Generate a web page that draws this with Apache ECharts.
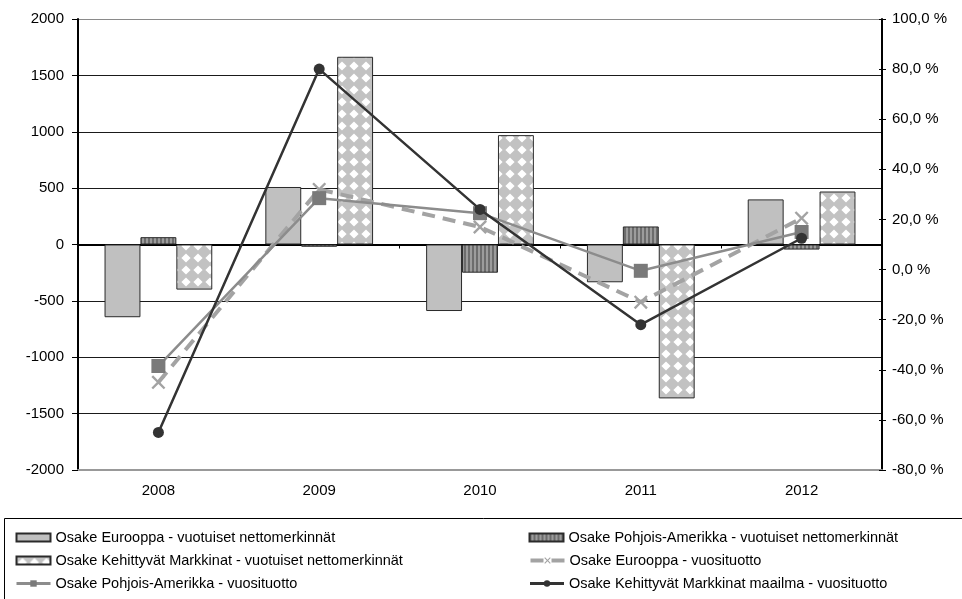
<!DOCTYPE html>
<html>
<head>
<meta charset="utf-8">
<script src="https://cdn.jsdelivr.net/npm/echarts@6/dist/echarts.min.js"></script>
<style>
  html, body { margin: 0; padding: 0; background: #fff; }
  #chart { width: 962px; height: 599px; }
</style>
</head>
<body>
<div id="chart"></div>
<script>
// Years on the category axis
const years = ['2008', '2009', '2010', '2011', '2012'];

// Annual net subscriptions (left axis)
const europeFlows = [-645, 510, -590, -335, 400];
const northAmericaFlows = [65, -20, -250, 160, -45];
const emergingFlows = [-400, 1665, 970, -1365, 470];

// Annual returns in percent (right axis)
const europeReturn = [-45, 32, 17, -13, 20.5];
const northAmericaReturn = [-38.5, 28.5, 22.5, -0.5, 15];
const emergingReturn = [-65, 80, 24, -22, 12.5];

// Axis tick settings
const leftTicks = { min: -2000, max: 2000, interval: 500 };
const rightTicks = { min: -80, max: 100, interval: 20 };

const seriesNames = [
  'Osake Eurooppa - vuotuiset nettomerkinnät',
  'Osake Pohjois-Amerikka - vuotuiset nettomerkinnät',
  'Osake Kehittyvät Markkinat - vuotuiset nettomerkinnät',
  'Osake Eurooppa - vuosituotto',
  'Osake Pohjois-Amerikka - vuosituotto',
  'Osake Kehittyvät Markkinat maailma - vuosituotto'
];

// Fill patterns for the bars
function stripePattern() {
  const c = document.createElement('canvas');
  c.width = 4; c.height = 4;
  const g = c.getContext('2d');
  g.fillStyle = '#6c6c6c'; g.fillRect(0, 0, 4, 4);
  g.fillStyle = '#9c9c9c'; g.fillRect(2, 0, 2, 4);
  return c;
}
function diamondPattern() {
  const s = 12;
  const c = document.createElement('canvas');
  c.width = s; c.height = s;
  const g = c.getContext('2d');
  g.fillStyle = '#c2c2c2'; g.fillRect(0, 0, s, s);
  g.fillStyle = '#ffffff';
  const d = 4.6;
  g.beginPath();
  g.moveTo(s / 2, s / 2 - d); g.lineTo(s / 2 + d, s / 2);
  g.lineTo(s / 2, s / 2 + d); g.lineTo(s / 2 - d, s / 2);
  g.closePath(); g.fill();
  return c;
}

const font = '"Liberation Sans", Arial, sans-serif';
const pct = v => v.toFixed(1).replace('.', ',') + ' %';
const crossSymbol = 'path://M0,1.2 L1.2,0 L5,3.8 L8.8,0 L10,1.2 L6.2,5 L10,8.8 L8.8,10 L5,6.2 L1.2,10 L0,8.8 L3.8,5Z';

const chart = echarts.init(document.getElementById('chart'), null, { renderer: 'canvas' });

const splitColors = ['#999'].concat(Array(7).fill('#1a1a1a')).concat(['#8a8a8a']);

chart.setOption({
  animation: false,
  backgroundColor: '#fff',
  textStyle: { fontFamily: font },
  grid: { left: 78, right: 80, top: 19, bottom: 129 },
  legend: {
    left: 15,
    top: 526,
    width: 1040,
    itemWidth: 34,
    itemHeight: 8,
    itemGap: 0,
    padding: 0,
    textStyle: { fontFamily: font, fontSize: 14.5, color: '#000', width: 473, lineHeight: 23 },
    data: [
      { name: seriesNames[0], icon: 'rect' },
      { name: seriesNames[1], icon: 'rect' },
      { name: seriesNames[2], icon: 'rect' },
      { name: seriesNames[3], lineStyle: { width: 4 } },
      { name: seriesNames[4], lineStyle: { width: 3 } },
      { name: seriesNames[5], lineStyle: { width: 3 } }
    ]
  },
  graphic: [{
    type: 'rect',
    shape: { x: 4.5, y: 518.5, width: 970, height: 100 },
    style: { fill: 'none', stroke: '#000', lineWidth: 1 },
    z: 0, silent: true
  }],
  xAxis: [{
    type: 'category',
    data: years,
    position: 'bottom',
    axisLine: { onZero: false, lineStyle: { color: '#999', width: 2 } },
    axisTick: { show: false },
    axisLabel: { fontSize: 15, color: '#000', margin: 13, fontFamily: font },
    splitLine: { show: false }
  }, {
    type: 'category',
    data: years,
    position: 'bottom',
    axisLine: { onZero: true, onZeroAxisIndex: 0, lineStyle: { color: '#000', width: 2 } },
    axisTick: { show: true, length: 4, lineStyle: { color: '#000' } },
    axisLabel: { show: false },
    splitLine: { show: false }
  }],
  yAxis: [{
    type: 'value',
    position: 'left',
    min: leftTicks.min, max: leftTicks.max, interval: leftTicks.interval,
    axisLine: { show: true, lineStyle: { color: '#000', width: 2 } },
    axisTick: { show: true, length: 6, lineStyle: { color: '#000' } },
    axisLabel: { fontSize: 15, color: '#000', margin: 14, fontFamily: font, formatter: v => String(v) },
    splitLine: { show: true, lineStyle: { color: splitColors, width: 1 } }
  }, {
    type: 'value',
    position: 'right',
    min: rightTicks.min, max: rightTicks.max, interval: rightTicks.interval,
    axisLine: { show: true, lineStyle: { color: '#000', width: 2 } },
    axisTick: { show: true, length: 4, lineStyle: { color: '#000' } },
    axisLabel: { fontSize: 15, color: '#000', margin: 10, fontFamily: font, formatter: pct },
    splitLine: { show: false }
  }, {
    type: 'value',
    position: 'right',
    min: rightTicks.min, max: rightTicks.max, interval: rightTicks.interval,
    axisLine: { show: false },
    axisTick: { show: true, inside: true, length: 3, lineStyle: { color: '#000' } },
    axisLabel: { show: false },
    splitLine: { show: false }
  }],
  series: [{
    name: seriesNames[0], type: 'bar', data: europeFlows,
    barGap: '0%', barCategoryGap: '33%',
    itemStyle: { color: '#c0c0c0', borderColor: '#2a2a2a', borderWidth: 1 },
    z: 2
  }, {
    name: seriesNames[1], type: 'bar', data: northAmericaFlows,
    barGap: '0%', barCategoryGap: '33%',
    itemStyle: { color: { image: stripePattern(), repeat: 'repeat' }, borderColor: '#2a2a2a', borderWidth: 1 },
    z: 2
  }, {
    name: seriesNames[2], type: 'bar', data: emergingFlows,
    barGap: '0%', barCategoryGap: '33%',
    itemStyle: { color: { image: diamondPattern(), repeat: 'repeat' }, borderColor: '#2a2a2a', borderWidth: 1 },
    z: 2
  }, {
    name: seriesNames[3], type: 'line', yAxisIndex: 1, data: europeReturn,
    symbol: crossSymbol, symbolSize: 14, showSymbol: true,
    lineStyle: { color: '#a3a3a3', width: 4, type: [13, 8] },
    itemStyle: { color: '#a3a3a3' },
    z: 4
  }, {
    name: seriesNames[4], type: 'line', yAxisIndex: 1, data: northAmericaReturn,
    symbol: 'rect', symbolSize: 14, showSymbol: true,
    lineStyle: { color: '#8c8c8c', width: 2.5 },
    itemStyle: { color: '#7a7a7a' },
    z: 5
  }, {
    name: seriesNames[5], type: 'line', yAxisIndex: 1, data: emergingReturn,
    symbol: 'circle', symbolSize: 11, showSymbol: true,
    lineStyle: { color: '#333', width: 2.5 },
    itemStyle: { color: '#333' },
    z: 6
  }]
});
</script>
</body>
</html>
